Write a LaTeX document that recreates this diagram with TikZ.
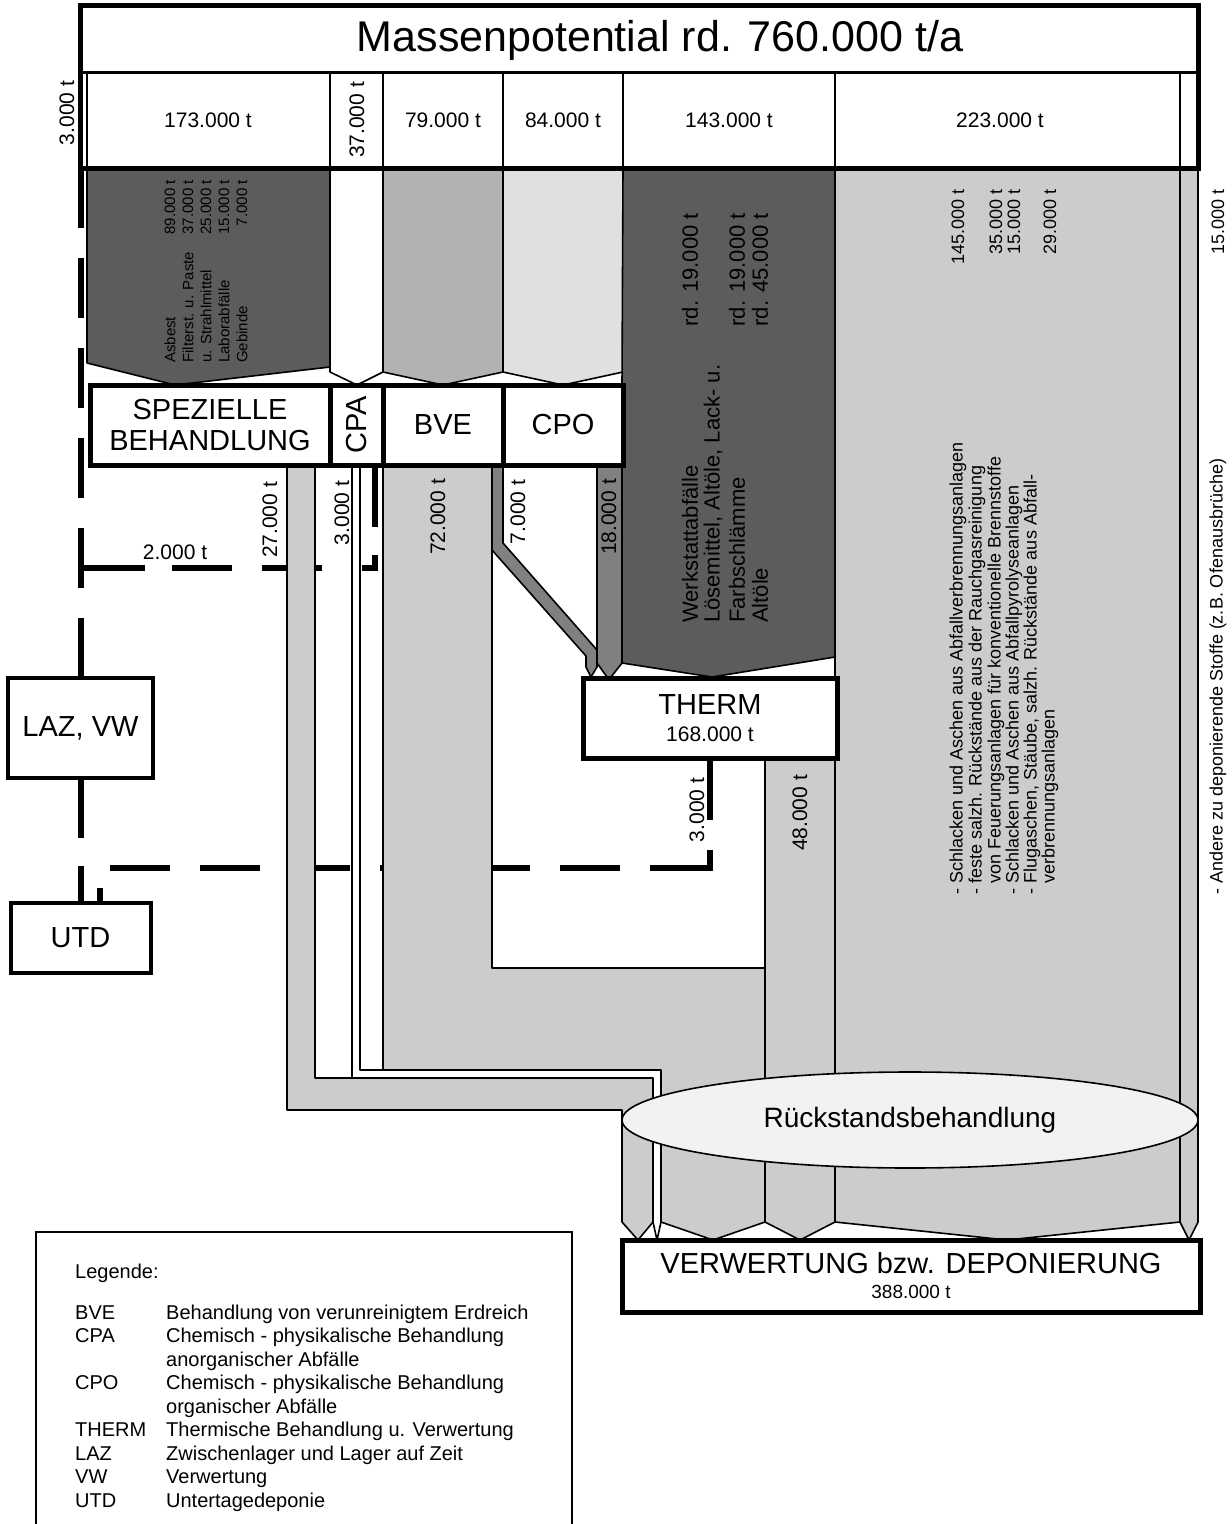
\documentclass[tikz,border=0pt]{standalone}
\usepackage{fontspec}
\setmainfont{Liberation Sans}
\usetikzlibrary{positioning,shapes.geometric}
\definecolor{massdark}{gray}{0.36}
\definecolor{massstrip}{gray}{0.50}
\definecolor{massmid}{gray}{0.70}
\definecolor{masslight}{gray}{0.80}
\definecolor{masspale}{gray}{0.88}
\definecolor{massoval}{gray}{0.95}
\newcommand{\fstitle}{\fontsize{43}{46}\selectfont}
\newcommand{\fsbox}{\fontsize{29}{31}\selectfont}
\newcommand{\fsval}{\fontsize{21}{23}\selectfont}
\newcommand{\fsnote}{\fontsize{18}{18.5}\selectfont}
\newcommand{\fsdark}{\fontsize{22}{23}\selectfont}
\newcommand{\fstiny}{\fontsize{15}{17}\selectfont}
\newcommand{\fslegend}{\fontsize{20}{23.5}\selectfont}
\pgfdeclarelayer{flows}
\pgfsetlayers{flows,main}
\tikzset{
  unitbox/.style={draw, line width=5pt, fill=white, outer sep=0pt,
    inner sep=0pt, align=center, font=\fsbox},
  flowedge/.style={draw=black, line width=1.6pt, line join=round},
  dashflow/.style={line width=6pt},
  vlabel/.style={rotate=90, inner sep=0pt, font=\fsval},
  vnote/.style={rotate=90, inner sep=0pt, anchor=west, font=\fsnote},
  vnum/.style={rotate=90, inner sep=0pt, anchor=east, font=\fsnote},
  darknote/.style={rotate=90, inner sep=0pt, anchor=west, font=\fsdark},
  darknum/.style={rotate=90, inner sep=0pt, anchor=east, font=\fsdark},
  tinynote/.style={rotate=90, inner sep=0pt, anchor=west, font=\fstiny},
  tinynum/.style={rotate=90, inner sep=0pt, anchor=east, font=\fstiny}
}

\begin{document}
\begin{tikzpicture}[x=1pt, y=-1pt, node distance=0pt]
\useasboundingbox (0,0) rectangle (1232,1524);

% potential block
\draw[line width=5pt, fill=white] (80,5) rectangle (1198,168);
\draw[line width=3pt] (80,72) -- (1198,72);
\foreach \x in {87,330,383,503,623,835,1180}
  \draw[line width=2.5pt] (\x,72) -- (\x,168);
\node[font=\fstitle] (title) at (660,40) {Massenpotential rd. 760.000 t/a};
\node[font=\fsval] (v173) at (208,120) {173.000 t};
\node[vlabel] (v37) at (357,120) {37.000 t};
\node[font=\fsval] (v79) at (443,120) {79.000 t};
\node[font=\fsval] (v84) at (563,120) {84.000 t};
\node[font=\fsval] (v143) at (729,120) {143.000 t};
\node[font=\fsval] (v223) at (1000,120) {223.000 t};
\node[vlabel] (v3) at (67,113) {3.000 t};

% treatment boxes
\node[unitbox, minimum width=240pt, minimum height=80pt] (spez) at (210,425) {SPEZIELLE\\BEHANDLUNG};
\node[unitbox, minimum width=53pt, minimum height=80pt, right=of spez] (cpa) {};
\node[rotate=90, font=\fsbox] (cpatext) at (cpa) {CPA};
\node[unitbox, minimum width=120pt, minimum height=80pt, right=of cpa] (bve) {BVE};
\node[unitbox, minimum width=120pt, minimum height=80pt, right=of bve] (cpo) {CPO};
\node[unitbox, minimum width=254pt, minimum height=80pt] (therm) at (710,718) {THERM\\[-4pt]{\fsval 168.000 t}};
\node[unitbox, line width=4pt, minimum width=145pt, minimum height=100pt] (laz) at (80.5,728) {LAZ, VW};
\node[unitbox, line width=4pt, minimum width=140pt, minimum height=70pt] (utd) at (80.5,938) {UTD};
\node[unitbox, minimum width=578pt, minimum height=72pt] (verw) at (911,1276) {VERWERTUNG bzw. DEPONIERUNG\\[-6pt]{\fontsize{19}{21}\selectfont 388.000 t}};
\node[ellipse, draw, line width=1.6pt, fill=massoval, minimum width=576pt, minimum height=96pt,
  font=\fontsize{28}{30}\selectfont] (rueck) at (910,1120) {Rückstandsbehandlung};

\coordinate (cpadrop) at ([xshift=-8pt]cpa.south east);
\coordinate (twoend) at (80.5,568);
\coordinate (utdturn) at (100,868);

\begin{pgfonlayer}{flows}
% dashed flows to LAZ and UTD
\draw[dashflow, dash pattern=on 60pt off 30pt] (laz.north |- 0,168) -- (laz.north);
\draw[dashflow, dash pattern=on 60pt off 28pt] (laz.south) -- (laz.south |- utd.north);
\draw[dashflow, dash pattern=on 62pt off 28pt on 26pt off 40pt on 60pt off 30pt on 60pt off 27pt on 80pt off 10pt]
  (cpadrop) |- (twoend);
\draw[dashflow, dash pattern=on 62pt off 30pt on 78pt off 30pt on 60pt off 30pt on 60pt off 30pt
  on 60pt off 30pt on 60pt off 30pt on 60pt off 30pt on 60pt off 30pt on 110pt off 10pt]
  (therm.south) |- (utdturn) -- (utdturn |- utd.north);

% inputs from the potential block
\filldraw[fill=massdark, flowedge] (87,168) -- (330,168) -- (330,367) -- (175,385) -- (87,363) -- cycle;
\filldraw[fill=white, flowedge] (330,168) -- (383,168) -- (383,372) -- (357,385) -- (330,372) -- cycle;
\filldraw[fill=massmid, flowedge] (383,168) -- (503,168) -- (503,372) -- (443,385) -- (383,372) -- cycle;
\filldraw[fill=masspale, flowedge] (503,168) -- (623,168) -- (623,372) -- (563,385) -- (503,372) -- cycle;
\filldraw[fill=massdark, flowedge] (623,168) -- (835,168) -- (835,657) -- (712,677) -- (622,663) -- (622,385) -- cycle;
\filldraw[fill=masslight, flowedge] (835,168) -- (1180,168) -- (1180,1222) -- (1007,1240) -- (835,1222) -- cycle;
\filldraw[fill=masslight, flowedge] (1180,168) -- (1198,168) -- (1198,1222) -- (1189,1240) -- (1180,1222) -- cycle;

% outputs of the treatment units
\filldraw[fill=masslight, flowedge] (287,465) -- (315,465) -- (315,1078) -- (653,1078) -- (653,1222)
  -- (638,1240) -- (622,1222) -- (622,1110) -- (287,1110) -- cycle;
\filldraw[fill=white, flowedge] (352,465) -- (360,465) -- (360,1070) -- (661,1070) -- (661,1222)
  -- (657,1240) -- (653,1222) -- (653,1078) -- (352,1078) -- cycle;
\filldraw[fill=masslight, flowedge] (383,465) -- (492,465) -- (492,968) -- (765,968) -- (765,1222)
  -- (713,1240) -- (661,1222) -- (661,1070) -- (383,1070) -- cycle;
\filldraw[fill=masslight, flowedge] (765,758) -- (835,758) -- (835,1222) -- (800,1240) -- (765,1222) -- cycle;
\filldraw[fill=massstrip, flowedge] (492,465) -- (503,465) -- (503,543) -- (597,650) -- (597,667)
  -- (591,677) -- (586,667) -- (586,656) -- (492,550) -- cycle;
\filldraw[fill=massstrip, flowedge] (597,465) -- (622,465) -- (622,663) -- (611,677) -- (607,677) -- (597,663) -- cycle;
\end{pgfonlayer}

% flow labels
\node[vlabel] (l27) at (270,520) {27.000 t};
\node[vlabel] (l3cpa) at (342,513) {3.000 t};
\node[vlabel] (l72) at (438,517) {72.000 t};
\node[vlabel] (l7) at (518,512) {7.000 t};
\node[vlabel] (l18) at (609,517) {18.000 t};
\node[font=\fsval] (l2) at (175,552) {2.000 t};
\node[vlabel] (l3therm) at (697,810) {3.000 t};
\node[vlabel] (l48) at (800,813) {48.000 t};
\node[vnum] (l15) at (1218,189) {15.000 t};
\node[vnote] (andere) at (1218,895) {- Andere zu deponierende Stoffe (z.B. Ofenausbrüche)};

% special treatment inputs
\node[tinynote] (asbest) at (170,363) {Asbest};
\node[tinynote] (filter) at (188,363) {Filterst. u. Paste};
\node[tinynote] (strahl) at (206,363) {u. Strahlmittel};
\node[tinynote] (labor) at (224,363) {Laborabfälle};
\node[tinynote] (gebinde) at (242,363) {Gebinde};
\node[tinynum] (nasbest) at (170,180) {89.000 t};
\node[tinynum] (nfilter) at (188,180) {37.000 t};
\node[tinynum] (nstrahl) at (206,180) {25.000 t};
\node[tinynum] (nlabor) at (224,180) {15.000 t};
\node[tinynum] (ngebinde) at (242,180) {7.000 t};

% thermal inputs
\node[darknote] (werk) at (690,623) {Werkstattabfälle};
\node[darknote] (loese) at (713,623) {Lösemittel, Altöle, Lack- u.};
\node[darknote] (farb) at (737,623) {Farbschlämme};
\node[darknote] (altoel) at (760,623) {Altöle};
\node[darknum] (nwerk) at (690,213) {rd. 19.000 t};
\node[darknum] (nfarb) at (737,213) {rd. 19.000 t};
\node[darknum] (naltoel) at (760,213) {rd. 45.000 t};

% residues
\node[vnote] (schl1) at (958,895) {- Schlacken und Aschen aus Abfallverbrennungsanlagen};
\node[vnote] (feste) at (977,895) {- feste salzh. Rückstände aus der Rauchgasreinigung};
\node[vnote] (feuer) at (996,895) {\hphantom{- }von Feuerungsanlagen für konventionelle Brennstoffe};
\node[vnote] (schl2) at (1014,895) {- Schlacken und Aschen aus Abfallpyrolyseanlagen};
\node[vnote] (flug) at (1032,895) {- Flugaschen, Stäube, salzh. Rückstände aus Abfall-};
\node[vnote] (verbr) at (1050,895) {\hphantom{- }verbrennungsanlagen};
\node[vnum] (nschl1) at (958,189) {145.000 t};
\node[vnum] (nfeuer) at (996,189) {35.000 t};
\node[vnum] (nschl2) at (1014,189) {15.000 t};
\node[vnum] (nverbr) at (1050,189) {29.000 t};

% legend
\draw[line width=1.5pt] (36,1524) -- (36,1232) -- (572,1232) -- (572,1524);
\node[anchor=north west, inner sep=0pt, font=\fslegend] (legend) at (75,1262) {%
\begin{tabular}{@{}p{91pt}@{}l@{}}
\multicolumn{2}{@{}l}{Legende:}\\[17pt]
BVE & Behandlung von verunreinigtem Erdreich\\
CPA & Chemisch - physikalische Behandlung\\
 & anorganischer Abfälle\\
CPO & Chemisch - physikalische Behandlung\\
 & organischer Abfälle\\
THERM & Thermische Behandlung u. Verwertung\\
LAZ & Zwischenlager und Lager auf Zeit\\
VW & Verwertung\\
UTD & Untertagedeponie
\end{tabular}};
\end{tikzpicture}
\end{document}
